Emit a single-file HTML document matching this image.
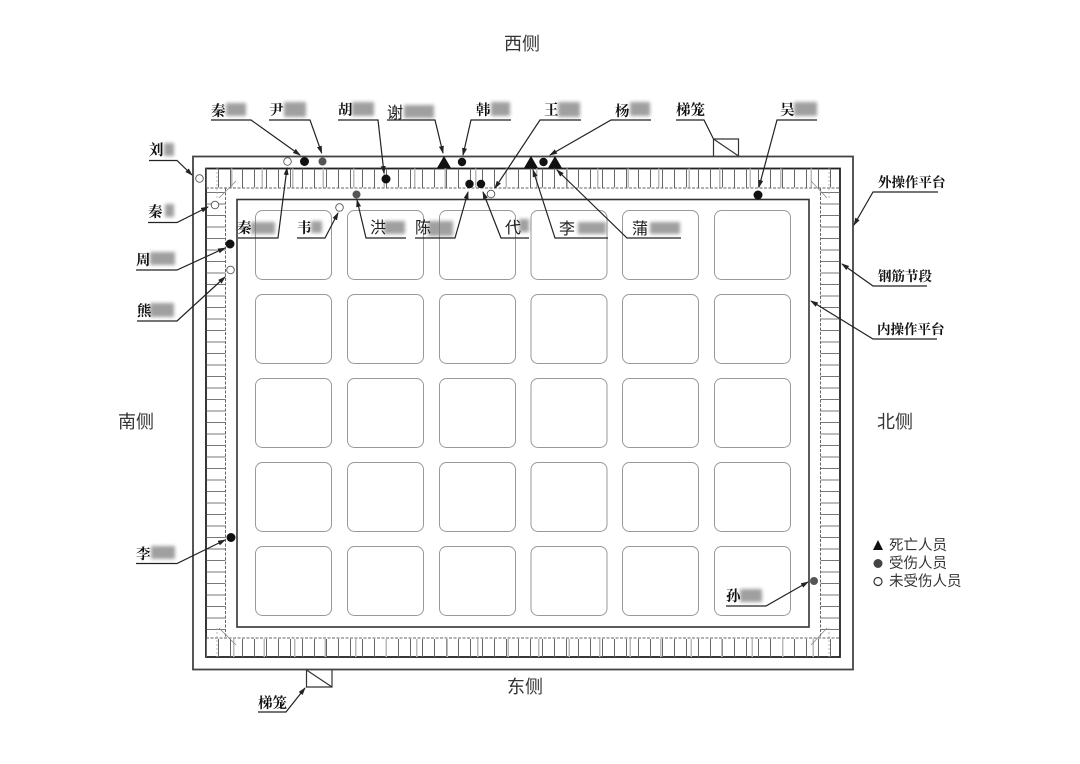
<!DOCTYPE html>
<html lang="zh"><head><meta charset="utf-8"><title>平面示意图</title>
<style>
html,body{margin:0;padding:0;background:#fff}
svg{display:block;filter:blur(0.35px)}
text{font-family:"Liberation Sans","Noto Sans CJK SC",sans-serif;fill:#222}
.l{font-size:14.500px;font-weight:700;font-family:"Liberation Serif","Noto Serif CJK SC",serif;fill:#111}
.s{font-size:13.500px;font-weight:700;font-family:"Liberation Serif","Noto Serif CJK SC",serif;fill:#111}
.d{font-size:16px;font-weight:400}
.b{font-size:18px;fill:#333}
.g{font-size:14.500px;fill:#333}
</style></head><body>
<svg width="1080" height="764" viewBox="0 0 1080 764" xmlns="http://www.w3.org/2000/svg">
<defs>
<filter id="bl" x="-40%" y="-40%" width="180%" height="180%"><feGaussianBlur stdDeviation="1.900"/></filter>
<marker id="a" markerWidth="8" markerHeight="6" refX="7" refY="2.5" orient="auto" markerUnits="userSpaceOnUse"><path d="M0 0L8 2.5L0 5z" fill="#222"/></marker>
</defs>
<rect width="1080" height="764" fill="#fff"/>

<!-- outer platform -->
<rect x="193" y="156.500" width="660" height="513" fill="none" stroke="#444" stroke-width="1.800"/>
<rect x="206" y="168.500" width="634" height="488.500" fill="none" stroke="#222" stroke-width="1.800"/>
<!-- hatch -->
<line x1="206" y1="178" x2="840" y2="178" stroke="#666" stroke-width="19" stroke-dasharray="1 11"/>
<line x1="231" y1="178" x2="822" y2="178" stroke="#bbb" stroke-width="19" stroke-dasharray="1.500 29"/>
<line x1="206" y1="648" x2="840" y2="648" stroke="#666" stroke-width="18" stroke-dasharray="1 11"/>
<line x1="233" y1="648" x2="822" y2="648" stroke="#bbb" stroke-width="18" stroke-dasharray="1.500 29"/>
<line x1="216" y1="192" x2="216" y2="634" stroke="#777" stroke-width="19" stroke-dasharray="1 10.500"/>
<line x1="830" y1="192" x2="830" y2="634" stroke="#777" stroke-width="19" stroke-dasharray="1 10.500"/>
<path d="M206 188H840M206 638H840M225.500 188V638M820.500 188V638" fill="none" stroke="#666" stroke-width="1" stroke-dasharray="3 1.500"/>
<path d="M217 168V198M829 168V198M217 628V657M829 628V657" fill="none" stroke="#aaa" stroke-width="0.800" stroke-dasharray="2 2"/>
<path d="M236 181L219 198M811 181L827 198M219 628L236 645M827 628L811 645" fill="none" stroke="#888" stroke-width="0.800"/>
<!-- inner platform -->
<rect x="237" y="199.500" width="572" height="427.500" fill="#fff" stroke="#333" stroke-width="1.600"/>

<!-- tiles -->
<g fill="#fff" stroke="#999" stroke-width="1">
<rect x="255.500" y="210.500" width="76" height="69" rx="7"/><rect x="347.500" y="210.500" width="76" height="69" rx="7"/><rect x="439.500" y="210.500" width="76" height="69" rx="7"/><rect x="531" y="210.500" width="76" height="69" rx="7"/><rect x="622.500" y="210.500" width="76" height="69" rx="7"/><rect x="714.500" y="210.500" width="76" height="69" rx="7"/>
<rect x="255.500" y="294.500" width="76" height="69" rx="7"/><rect x="347.500" y="294.500" width="76" height="69" rx="7"/><rect x="439.500" y="294.500" width="76" height="69" rx="7"/><rect x="531" y="294.500" width="76" height="69" rx="7"/><rect x="622.500" y="294.500" width="76" height="69" rx="7"/><rect x="714.500" y="294.500" width="76" height="69" rx="7"/>
<rect x="255.500" y="378.500" width="76" height="69" rx="7"/><rect x="347.500" y="378.500" width="76" height="69" rx="7"/><rect x="439.500" y="378.500" width="76" height="69" rx="7"/><rect x="531" y="378.500" width="76" height="69" rx="7"/><rect x="622.500" y="378.500" width="76" height="69" rx="7"/><rect x="714.500" y="378.500" width="76" height="69" rx="7"/>
<rect x="255.500" y="462.500" width="76" height="69" rx="7"/><rect x="347.500" y="462.500" width="76" height="69" rx="7"/><rect x="439.500" y="462.500" width="76" height="69" rx="7"/><rect x="531" y="462.500" width="76" height="69" rx="7"/><rect x="622.500" y="462.500" width="76" height="69" rx="7"/><rect x="714.500" y="462.500" width="76" height="69" rx="7"/>
<rect x="255.500" y="546.500" width="76" height="69" rx="7"/><rect x="347.500" y="546.500" width="76" height="69" rx="7"/><rect x="439.500" y="546.500" width="76" height="69" rx="7"/><rect x="531" y="546.500" width="76" height="69" rx="7"/><rect x="622.500" y="546.500" width="76" height="69" rx="7"/><rect x="714.500" y="546.500" width="76" height="69" rx="7"/>
</g>

<!-- hoist boxes -->
<path d="M713.500 156V139H738.500V156M713.500 139L738.500 156" fill="none" stroke="#333" stroke-width="1.200"/>
<path d="M306.500 670V687H332V670M306.500 670L332 687" fill="none" stroke="#333" stroke-width="1.200"/>

<!-- blurred name patches -->
<g fill="#777" filter="url(#bl)" opacity="0.7">
<rect x="226" y="103" width="20" height="13"/><rect x="284" y="102" width="22" height="15"/><rect x="352" y="102" width="22" height="14"/><rect x="404" y="105" width="30" height="13"/>
<rect x="491" y="102" width="19" height="14"/><rect x="558" y="102" width="22" height="15"/><rect x="630" y="102" width="20" height="14"/><rect x="794" y="102" width="23" height="14"/>
<rect x="164" y="143" width="10" height="13"/><rect x="165" y="204" width="9" height="13"/><rect x="150" y="252" width="25" height="13"/><rect x="150" y="303" width="24" height="14"/>
<rect x="251" y="222" width="24" height="12"/><rect x="311" y="221" width="11" height="12"/><rect x="384" y="221" width="21" height="13"/><rect x="428" y="221" width="25" height="15"/>
<rect x="519" y="219" width="10" height="13"/><rect x="578" y="222" width="28" height="12"/><rect x="650" y="222" width="30" height="12"/><rect x="151" y="546" width="24" height="13"/><rect x="740" y="589" width="22" height="13"/>
</g>

<!-- leaders -->
<g fill="none" stroke="#222" stroke-width="1.200">
<path d="M211 120H251L300 155" marker-end="url(#a)"/>
<path d="M269 120H310L321.700 153" marker-end="url(#a)"/>
<path d="M338 120H378L384 173" marker-end="url(#a)"/>
<path d="M387 120H435L443 153" marker-end="url(#a)"/>
<path d="M511 120H471L463 155" marker-end="url(#a)"/>
<path d="M581 120H540L495 188" marker-end="url(#a)"/>
<path d="M651 120H611L550 155" marker-end="url(#a)"/>
<path d="M676 120H704L713.500 139"/>
<path d="M817 120H777L759 187" marker-end="url(#a)"/>
<path d="M938 192H873L854 225" marker-end="url(#a)"/>
<path d="M927 286H873L842 264" marker-end="url(#a)"/>
<path d="M937 339H873L811 301" marker-end="url(#a)"/>
<path d="M149 160.500H177L192 175" marker-end="url(#a)"/>
<path d="M148 222.500H177L208 207" marker-end="url(#a)"/>
<path d="M136 270H177L225 248" marker-end="url(#a)"/>
<path d="M137 321H177L225 277" marker-end="url(#a)"/>
<path d="M238 238H278L287 168" marker-end="url(#a)"/>
<path d="M297 238H325L338 213" marker-end="url(#a)"/>
<path d="M406 238H366L357 200" marker-end="url(#a)"/>
<path d="M415 238H455L468 192" marker-end="url(#a)"/>
<path d="M529 238H501L483 192" marker-end="url(#a)"/>
<path d="M608 238H555L533 170" marker-end="url(#a)"/>
<path d="M681 238H627L557 170" marker-end="url(#a)"/>
<path d="M136 563.500H177L225 540" marker-end="url(#a)"/>
<path d="M258 712H286L305 688" marker-end="url(#a)"/>
<path d="M726 606H766L808 582" marker-end="url(#a)"/>
</g>

<!-- markers -->
<g fill="#111">
<path d="M437 168L444 156L451 168Z"/><path d="M524 168L531 156L538 168Z"/><path d="M548 168L555 156L562 168Z"/>
<circle cx="304.500" cy="161.500" r="4.500"/><circle cx="386" cy="179" r="4.500"/><circle cx="230" cy="244" r="4.500"/><circle cx="231" cy="537.500" r="4.500"/>
<circle cx="462" cy="162" r="4.200"/><circle cx="543.500" cy="162" r="4.200"/><circle cx="469.500" cy="184" r="4.200"/><circle cx="481" cy="184" r="4.200"/><circle cx="758" cy="195" r="4.500"/>
</g>
<g fill="#555"><circle cx="322.500" cy="161.500" r="4"/><circle cx="356.500" cy="194.500" r="4"/><circle cx="814" cy="581" r="4"/></g>
<g fill="#fff" stroke="#555" stroke-width="0.900">
<circle cx="287.500" cy="161.500" r="3.800"/><circle cx="339.500" cy="207.500" r="3.800"/><circle cx="199.500" cy="178.500" r="3.800"/><circle cx="215" cy="205" r="3.800"/><circle cx="230.500" cy="270" r="3.800"/><circle cx="491" cy="194" r="3.800"/>
</g>

<!-- labels -->
<text class="l" x="211" y="116">秦</text><text class="l" x="269" y="115">尹</text><text class="l" x="338" y="115">胡</text><text class="d" x="387" y="118">谢</text><text class="l" x="476" y="115">韩</text><text class="l" x="544" y="115">王</text><text class="l" x="615" y="116">杨</text><text class="l" x="676" y="115">梯笼</text><text class="l" x="780" y="115">吴</text>
<text class="l" x="149" y="155">刘</text><text class="l" x="148" y="217">秦</text><text class="l" x="136" y="265">周</text><text class="l" x="137" y="316">熊</text>
<text class="l" x="237" y="233">秦</text><text class="l" x="297" y="233">韦</text><text class="d" x="370" y="233">洪</text><text class="d" x="415" y="233">陈</text><text class="d" x="505" y="233">代</text><text class="d" x="559" y="234">李</text><text class="d" x="632" y="234">蒲</text>
<text class="l" x="136" y="559">李</text><text class="l" x="258" y="708">梯笼</text><text class="l" x="726" y="601">孙</text>
<text class="s" x="878" y="187">外操作平台</text><text class="s" x="878" y="281">钢筋节段</text><text class="s" x="877" y="334">内操作平台</text>

<text class="b" x="504" y="50">西侧</text><text class="b" x="118" y="428">南侧</text><text class="b" x="877" y="428">北侧</text><text class="b" x="507" y="693">东侧</text>

<!-- legend -->
<path d="M873 550L878 540L883 550Z" fill="#111"/><circle cx="878" cy="563.500" r="4.500" fill="#444"/><circle cx="878" cy="581.500" r="4" fill="#fff" stroke="#333" stroke-width="1.200"/>
<text class="g" x="889" y="550">死亡人员</text><text class="g" x="889" y="568">受伤人员</text><text class="g" x="889" y="586">未受伤人员</text>
</svg>
</body></html>
